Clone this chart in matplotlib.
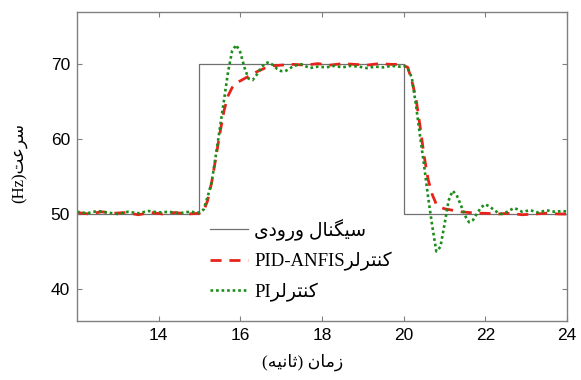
import matplotlib
matplotlib.use('Agg')
import matplotlib.pyplot as plt

# Input step signal
t_in = [12, 15, 15, 20, 20, 24]
v_in = [50, 50, 70, 70, 50, 50]

# PID-ANFIS controller response
t_anfis = [12.0, 12.3, 12.6, 12.9, 13.2, 13.5, 13.8, 14.1, 14.4, 14.7, 15.0, 15.1,
           15.2, 15.3, 15.4, 15.5, 15.6, 15.7, 15.8, 15.9, 16.0, 16.2, 16.4, 16.6,
           16.8, 17.0, 17.3, 17.6, 17.9, 18.2, 18.5, 18.8, 19.1, 19.4, 19.7, 19.95,
           20.1, 20.2, 20.3, 20.4, 20.5, 20.6, 20.7, 20.8, 20.9, 21.0, 21.2, 21.4,
           21.6, 21.8, 22.0, 22.3, 22.6, 22.9, 23.2, 23.5, 23.8, 24.0]
v_anfis = [50.2, 50.0, 50.3, 50.1, 50.2, 49.9, 50.2, 50.0, 50.2, 50.0, 50.1, 50.4,
           51.8, 54.3, 57.5, 60.8, 63.8, 65.8, 66.9, 67.5, 67.8, 68.4, 69.0, 69.5,
           69.8, 69.9, 70.0, 69.9, 70.1, 69.9, 70.1, 70.0, 69.9, 70.1, 70.0, 70.0,
           69.6, 67.8, 65.5, 61.8, 57.8, 54.6, 52.6, 51.3, 50.9, 50.7, 50.5, 50.3,
           50.2, 50.1, 50.1, 50.0, 50.1, 49.9, 50.0, 50.1, 50.0, 50.0]

# PI controller response
t_pi = [12.0, 12.25, 12.5, 12.75, 13.0, 13.25, 13.5, 13.75, 14.0, 14.25, 14.5, 14.75,
        15.0, 15.1, 15.2, 15.3, 15.4, 15.5, 15.6, 15.7, 15.8, 15.9, 16.0, 16.1,
        16.2, 16.3, 16.4, 16.5, 16.6, 16.7, 16.8, 16.9, 17.0, 17.1, 17.2, 17.3,
        17.5, 17.7, 17.9, 18.1, 18.3, 18.5, 18.7, 18.9, 19.1, 19.3, 19.5, 19.7,
        19.9, 20.0, 20.1, 20.2, 20.3, 20.4, 20.5, 20.6, 20.7, 20.8, 20.9, 21.0,
        21.1, 21.2, 21.3, 21.4, 21.5, 21.6, 21.7, 21.8, 21.9, 22.0, 22.1, 22.2,
        22.3, 22.4, 22.5, 22.6, 22.7, 22.8, 22.9, 23.1, 23.3, 23.5, 23.7, 23.9, 24.0]
v_pi = [50.3, 50.1, 50.4, 50.2, 50.0, 50.3, 50.1, 50.4, 50.2, 50.3, 50.1, 50.3,
        50.2, 50.6, 52.3, 54.3, 57.8, 61.5, 65.2, 69.0, 71.8, 72.6, 71.6, 69.6,
        68.1, 67.9, 68.6, 69.5, 70.1, 70.3, 69.9, 69.4, 69.1, 69.1, 69.4, 69.8,
        70.0, 69.5, 69.7, 69.6, 69.8, 69.6, 69.8, 69.7, 69.5, 69.7, 69.6, 69.8,
        69.7, 69.8, 69.5, 68.2, 64.6, 60.5, 56.5, 52.2, 48.4, 45.0, 45.6, 48.6,
        51.8, 53.1, 52.5, 51.2, 49.8, 48.9, 49.2, 50.1, 50.9, 51.3, 51.0, 50.6,
        50.2, 50.0, 50.2, 50.5, 50.8, 50.6, 50.3, 50.5, 50.2, 50.5, 50.3, 50.4, 50.3]

x_ticks = [14, 16, 18, 20, 22, 24]
y_ticks = [40, 50, 60, 70]

# Persian letters -> (isolated, final, initial, medial); None = does not join forward
FORMS = {
    'ا': ('\ufe8d', '\ufe8e', None, None),
    'ت': ('\ufe95', '\ufe96', '\ufe97', '\ufe98'),
    'ث': ('\ufe99', '\ufe9a', '\ufe9b', '\ufe9c'),
    'د': ('\ufea9', '\ufeaa', None, None),
    'ر': ('\ufead', '\ufeae', None, None),
    'ز': ('\ufeaf', '\ufeb0', None, None),
    'س': ('\ufeb1', '\ufeb2', '\ufeb3', '\ufeb4'),
    'ع': ('\ufec9', '\ufeca', '\ufecb', '\ufecc'),
    'ل': ('\ufedd', '\ufede', '\ufedf', '\ufee0'),
    'م': ('\ufee1', '\ufee2', '\ufee3', '\ufee4'),
    'ن': ('\ufee5', '\ufee6', '\ufee7', '\ufee8'),
    'ه': ('\ufee9', '\ufeea', '\ufeeb', '\ufeec'),
    'و': ('\ufeed', '\ufeee', None, None),
    'ک': ('\ufb8e', '\ufb8f', '\ufb90', '\ufb91'),
    'گ': ('\ufb92', '\ufb93', '\ufb94', '\ufb95'),
    'ی': ('\ufbfc', '\ufbfd', '\ufbfe', '\ufbff'),
}


def fa(text):
    # join letters and put them in visual (left-to-right) order
    out = []
    for i, c in enumerate(text):
        if c not in FORMS:
            out.append(c)
            continue
        prev = text[i - 1] if i > 0 else ''
        nxt = text[i + 1] if i + 1 < len(text) else ''
        back = prev in FORMS and FORMS[prev][2] is not None
        fwd = nxt in FORMS and FORMS[c][2] is not None
        iso, fin, ini, med = FORMS[c]
        out.append(med if back and fwd else fin if back else ini if fwd else iso)
    s = ''.join(reversed(out))
    return s.translate(str.maketrans('()', ')('))


fam = ['Liberation Serif', 'DejaVu Sans']
plt.rcParams['font.family'] = ['Liberation Sans', 'DejaVu Sans']

fig = plt.figure(figsize=(5.81, 3.80), dpi=100)
ax = fig.add_axes([0.1325, 0.1553, 0.8434, 0.8131])

ax.plot(t_in, v_in, color='#707070', lw=0.9, label=fa('سیگنال ورودی'))
ax.plot(t_anfis, v_anfis, color='#e8231c', lw=2.0, linestyle=(0, (4, 2.8)),
        label='PID-ANFIS' + fa('کنترلر'))
ax.plot(t_pi, v_pi, color='#1a8c1a', lw=1.9, linestyle=(0, (1, 1.1)),
        label='PI' + fa('کنترلر'))

ax.set_xlim(12, 24)
ax.set_ylim(35.7, 77)
ax.set_xticks(x_ticks)
ax.set_yticks(y_ticks)
ax.tick_params(direction='in', top=True, right=True, length=3.5, width=0.8,
               color='#808080', labelsize=12.5, pad=5)
for s in ax.spines.values():
    s.set_color('#808080')
    s.set_linewidth(1.0)

ax.set_xlabel(fa('زمان (ثانیه)'), family=fam, fontsize=12.5)
ax.xaxis.set_label_coords(0.46, -0.105)
ax.set_ylabel('(Hz)' + fa('سرعت'), family=fam, fontsize=12)
ax.yaxis.set_label_coords(-0.10, 0.51)

ax.legend(loc='upper left', bbox_to_anchor=(0.272, 0.33), frameon=False,
          prop={'family': fam, 'size': 13.5},
          handlelength=2.0, handletextpad=0.35, labelspacing=0.6,
          borderpad=0, borderaxespad=0)

fig.savefig('out.png', dpi=100)
